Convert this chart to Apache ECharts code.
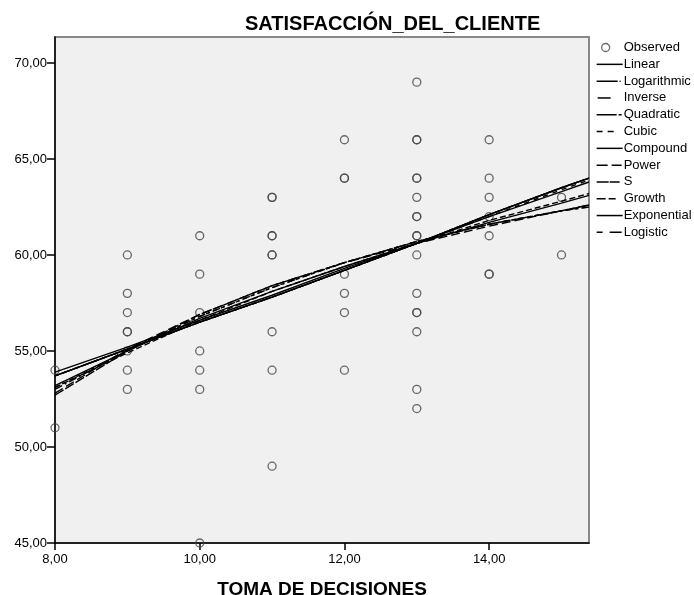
<!DOCTYPE html>
<html>
<head>
<meta charset="utf-8">
<script src="https://cdn.jsdelivr.net/npm/echarts@6/dist/echarts.min.js"></script>
<style>
  html, body { margin: 0; padding: 0; background: #fff; }
  #chart { width: 694px; height: 595px; }
</style>
</head>
<body>
<div id="chart"></div>
<script>
// observed points (TOMA DE DECISIONES, SATISFACCION_DEL_CLIENTE)
const obsX = [8, 8,
  9, 9, 9, 9, 9, 9, 9, 9,
  10, 10, 10, 10, 10, 10, 10,
  11, 11, 11, 11, 11, 11, 11, 11, 11,
  12, 12, 12, 12, 12, 12, 12,
  13, 13, 13, 13, 13, 13, 13, 13, 13, 13, 13, 13, 13, 13, 13, 13, 13,
  14, 14, 14, 14, 14, 14, 14,
  15, 15];
const obsY = [54, 51,
  60, 58, 57, 56, 56, 55, 54, 53,
  61, 59, 57, 55, 54, 53, 45,
  63, 63, 61, 61, 60, 56, 54, 49, 60,
  66, 64, 64, 59, 58, 57, 54,
  69, 66, 66, 64, 64, 63, 62, 62, 61, 61, 60, 58, 57, 57, 56, 53, 52,
  66, 64, 63, 62, 61, 59, 59,
  63, 60];

// fitted curves at these x positions
const fitX = [8, 9, 10, 11, 12, 13, 14, 15, 15.38];
const linear      = [53.9, 55.2, 56.6, 57.9, 59.3, 60.6, 62.0, 63.3, 63.8];
const logarithmic = [53.2, 55.0, 56.7, 58.1, 59.4, 60.6, 61.7, 62.7, 63.1];
const inverse     = [52.8, 55.1, 56.9, 58.4, 59.6, 60.6, 61.5, 62.3, 62.6];
const quadratic   = [53.0, 55.0, 56.8, 58.3, 59.6, 60.7, 61.6, 62.3, 62.5];
const cubic       = [53.1, 55.0, 56.8, 58.3, 59.6, 60.7, 61.6, 62.3, 62.5];
const compound    = [53.7, 55.1, 56.5, 57.8, 59.2, 60.6, 62.1, 63.5, 64.0];
const power       = [53.1, 54.9, 56.6, 58.1, 59.4, 60.6, 61.8, 62.8, 63.2];
const sCurve      = [52.7, 55.0, 56.9, 58.4, 59.6, 60.7, 61.6, 62.3, 62.6];
const growth      = [53.7, 55.1, 56.5, 57.8, 59.2, 60.6, 62.1, 63.5, 64.0];
const exponential = [53.7, 55.1, 56.5, 57.8, 59.2, 60.6, 62.1, 63.5, 64.0];
const logistic    = [53.7, 55.1, 56.5, 57.8, 59.2, 60.6, 62.0, 63.4, 63.9];

// legend glyphs in a 26x10 box (the two moveTo points fix the box)
const box = 'M0,0 M26,10 ';
const bar = (a, b) => 'M' + a + ',4.3h' + (b - a) + 'v1.5h' + (a - b) + 'z ';
const icon = segs => 'path://' + box + segs.map(s => bar(s[0], s[1])).join('');

const fits = [
  ['Linear', linear, 'solid', icon([[0, 26]])],
  ['Logarithmic', logarithmic, 'solid', icon([[0, 21], [23, 24]])],
  ['Inverse', inverse, [9, 4], icon([[1, 14]])],
  ['Quadratic', quadratic, [8, 3, 2, 3], icon([[0, 20], [22, 25]])],
  ['Cubic', cubic, [4, 4], icon([[0, 6], [11, 17]])],
  ['Compound', compound, 'solid', icon([[0, 26]])],
  ['Power', power, [6, 3], icon([[0, 11], [15, 25]])],
  ['S', sCurve, [10, 2], icon([[0, 12], [13, 23]])],
  ['Growth', growth, [5, 2], icon([[0, 9], [12, 19]])],
  ['Exponential', exponential, 'solid', icon([[0, 26]])],
  ['Logistic', logistic, [5, 5], icon([[0, 6], [13, 25]])]
];

const fmt = v => v.toFixed(2).replace('.', ',');
const font = 'Arial, "Liberation Sans", sans-serif';

const chart = echarts.init(document.getElementById('chart'));

const series = [{
  name: 'Observed',
  type: 'scatter',
  symbol: 'circle',
  symbolSize: 8,
  itemStyle: { color: 'rgba(0,0,0,0)', borderColor: '#444', borderWidth: 1.3 },
  data: obsX.map((x, i) => [x, obsY[i]]),
  z: 3
}];
fits.forEach(f => {
  series.push({
    name: f[0],
    type: 'line',
    symbol: 'none',
    smooth: false,
    lineStyle: { color: '#000', width: 1.4, type: f[2] },
    itemStyle: { color: '#000' },
    data: fitX.map((x, i) => [x, f[1][i]]),
    z: 4
  });
});

chart.setOption({
  animation: false,
  textStyle: { fontFamily: font },
  title: {
    text: 'SATISFACCIÓN_DEL_CLIENTE',
    left: 240,
    top: 9,
    textStyle: { fontSize: 20, fontWeight: 'bold', color: '#000', fontFamily: font }
  },
  legend: {
    orient: 'vertical',
    left: 591,
    top: 35,
    padding: 5,
    itemWidth: 26,
    itemHeight: 10,
    itemGap: 1.8,
    textStyle: { fontSize: 13, lineHeight: 15, color: '#000', padding: [0, 0, 0, -4] },
    data: [{
      name: 'Observed',
      icon: 'path://' + box + 'M5,5a4,4 0 1,0 8,0a4,4 0 1,0 -8,0z',
      itemStyle: { color: 'rgba(0,0,0,0)', borderColor: '#444', borderWidth: 1.3 }
    }].concat(fits.map(f => ({ name: f[0], icon: f[3] })))
  },
  grid: {
    left: 55, right: 105, top: 37, bottom: 52,
    outerBoundsMode: 'none',
    show: true,
    backgroundColor: '#f0f0f0',
    borderColor: '#888',
    borderWidth: 2
  },
  xAxis: {
    type: 'value',
    min: 8, max: 15.38, interval: 2,
    name: 'TOMA DE DECISIONES',
    nameLocation: 'middle',
    nameGap: 37,
    nameTextStyle: { fontSize: 19, fontWeight: 'bold', color: '#000' },
    axisLine: { show: true, onZero: false, lineStyle: { color: '#000', width: 1.5 } },
    axisTick: { show: true, length: 7, lineStyle: { color: '#000', width: 1.5 } },
    axisLabel: { formatter: fmt, fontSize: 13, color: '#000', margin: 10, showMaxLabel: false },
    splitLine: { show: false }
  },
  yAxis: {
    type: 'value',
    min: 45, max: 71.35, interval: 5,
    axisLine: { show: true, onZero: false, lineStyle: { color: '#000', width: 1.5 } },
    axisTick: { show: true, length: 8, lineStyle: { color: '#000', width: 1.5 } },
    axisLabel: { formatter: fmt, fontSize: 13, color: '#000', margin: 8, showMaxLabel: false },
    splitLine: { show: false }
  },
  series: series
});
</script>
</body>
</html>
